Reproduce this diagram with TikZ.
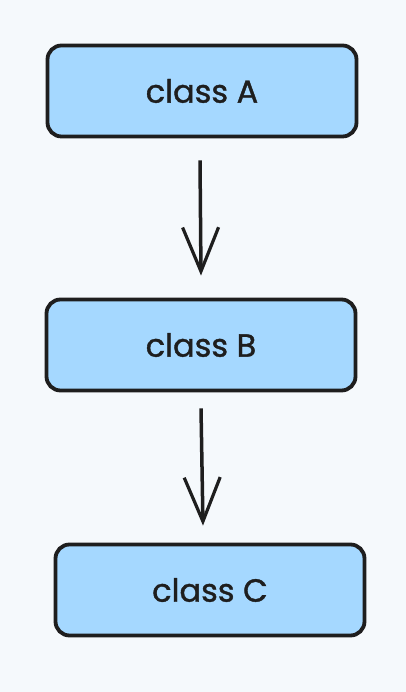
\documentclass[tikz,border=0pt]{standalone}
\usepackage{fontspec}
\setmainfont{Poppins}
\newfontfamily\boxfont{Poppins}[FakeBold=1.2]
\usetikzlibrary{arrows.meta}
\definecolor{bgcol}{RGB}{245,249,252}
\definecolor{boxfill}{RGB}{165,216,255}
\definecolor{ink}{RGB}{30,30,30}
\begin{document}
\begin{tikzpicture}[x=1pt,y=1pt,
  classbox/.style={draw=ink,fill=boxfill,line width=3.8pt,rounded corners=14pt,
    minimum width=309pt,minimum height=91pt,font=\boxfont\fontsize{32}{36}\selectfont,text=ink},
  link/.style={draw=ink,line width=3.5pt,-{Straight Barb[length=44pt,width=36pt,line width=3.2pt]}}]
\fill[bgcol] (0,0) rectangle (406,692);
\useasboundingbox (0,0) rectangle (406,692);
\node[classbox] (A) at (202,601) {class A};
\node[classbox] (B) at (201,347) {class B};
\node[classbox] (C) at (210,102) {class C};
\draw[link] ([yshift=-22pt,xshift=-2pt]A.south) -- ([yshift=22pt]B.north);
\draw[link] ([yshift=-16pt]B.south) -- ([yshift=17pt,xshift=-7pt]C.north);
\end{tikzpicture}
\end{document}
